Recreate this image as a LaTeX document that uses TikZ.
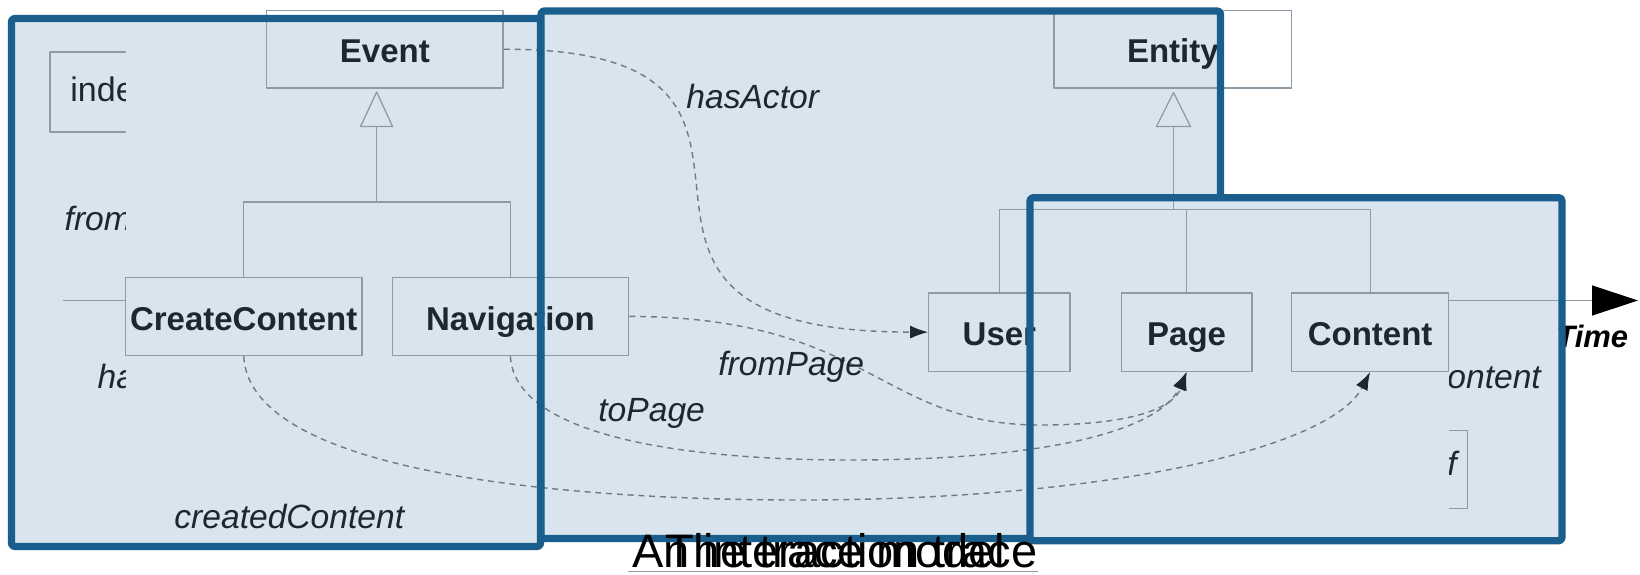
\documentclass[tikz,border=0pt]{standalone}
\usepackage{fontspec}
\setmainfont{Liberation Sans}
\usetikzlibrary{arrows.meta}
\definecolor{panelfill}{HTML}{D9E5EE}
\definecolor{panelline}{HTML}{1A5E8E}
\definecolor{boxline}{HTML}{8D9BA6}
\definecolor{txt}{HTML}{1C2730}
\definecolor{dashc}{HTML}{6E7A84}
\definecolor{capline}{HTML}{9A9A9A}
\tikzset{
  pfill/.style={fill=panelfill, rounded corners=1.5pt},
  pborder/.style={draw=panelline, line width=3.6pt, rounded corners=1.5pt},
  cls/.style={draw=boxline, line width=0.65pt, inner sep=0pt,
    font=\bfseries\fontsize{16.5pt}{18pt}\selectfont, text=txt,
    text height=13.6pt, text depth=0pt},
  thin/.style={draw=boxline, line width=0.65pt},
  lbl/.style={anchor=base west, inner sep=0pt, text=txt,
    font=\itshape\fontsize{16.8pt}{18pt}\selectfont},
  conn/.style={draw=dashc, line width=0.7pt, dash pattern=on 3pt off 2.4pt,
    -{Latex[length=9pt,width=6.5pt,color=txt]}},
  captxt/.style={anchor=base, inner sep=0pt, text=black,
    font=\fontsize{23.5pt}{26pt}\selectfont}
}
\begin{document}
\begin{tikzpicture}[x=0.5pt,y=-0.5pt,line join=round]
\useasboundingbox (0,0) rectangle (1640,574);
\fill[white] (0,0) rectangle (1640,574);

% panel fills
\path[pfill] (11.5,18.5) rectangle (540.5,546.5);
\path[pfill] (541,11) rectangle (1220.5,538.5);
\path[pfill] (1030,197.7) rectangle (1562,540.7);

% class boxes
\node[cls, minimum width=118.2pt, minimum height=38.7pt] (ev) at (384.9,49.2) {Event};
\node[cls, minimum width=118.85pt, minimum height=38.7pt] (en) at (1172.85,49.2) {Entity};
\node[cls, minimum width=118.2pt, minimum height=39.2pt] (cc) at (243.7,316.4) {CreateContent};
\node[cls, minimum width=118.2pt, minimum height=39.2pt] (nav) at (510.4,316.4) {Navigation};
\node[cls, minimum width=70.6pt, minimum height=39.2pt] (us) at (999.4,332.1) {User};
\node[cls, minimum width=65.4pt, minimum height=39.2pt] (pg) at (1186.6,332.1) {Page};
\node[cls, minimum width=78.45pt, minimum height=39.2pt] (ct) at (1370.15,332.1) {Content};

% inheritance: Event
\coordinate (evtip) at (376.6,92);
\coordinate (evbase) at (376.6,126.5);
\coordinate (evbar) at (376.6,201.9);
\draw[thin] (evtip) -- (392.6,126.5) -- (360.6,126.5) -- cycle;
\draw[thin] (evbase) -- (evbar);
\draw[thin] (cc.north) |- (evbar) -| (nav.north);

% inheritance: Entity
\coordinate (entip) at (1173.5,92.5);
\coordinate (enbase) at (1173.5,126.5);
\coordinate (enbar) at (1173.5,209.2);
\draw[thin] (entip) -- (1190.5,126.5) -- (1156.5,126.5) -- cycle;
\draw[thin] (enbase) -- (enbar);
\draw[thin] (us.north) |- (enbar) -| (ct.north);
\draw[thin] (pg.north) -- (pg.north |- enbar);

% partial elements on the left
\begin{scope}
\clip (0,0) rectangle (125.5,574);
\draw[thin] (125.5,52) -- (50,52) -- (50,132) -- (125.5,132);
\node[anchor=base west, inner sep=0pt, text=txt, font=\fontsize{17pt}{19pt}\selectfont] (inde) at (70,101.7) {inde};
\node[lbl] (lfromcut) at (64.3,230) {from};
\node[lbl] (lhacut) at (97.3,388.3) {ha};
\end{scope}
\coordinate (leftend) at (62.8,300.2);
\draw[thin] (leftend) -- (cc.west |- leftend);

% partial elements on the right
\begin{scope}
\clip (1449,0) rectangle (1640,574);
\node[lbl] (lontent) at (1447,388.3) {ontent};
\node[lbl] (lf) at (1447,475) {f};
\draw[thin] (1440,430.7) -| (1467.7,508.3) -- (1440,508.3);
\end{scope}

% time axis
\coordinate (tstart) at (1448.6,300.5);
\coordinate (ttip) at (1638,300.5);
\draw[thin, -{Triangle[length=23pt,width=15pt,color=black]}] (tstart) -- (ttip);
\node[anchor=base west, inner sep=0pt, text=black,
  font=\bfseries\itshape\fontsize{15.5pt}{17pt}\selectfont] (timelbl) at (1556,347.3) {Time};

% associations
\draw[conn] (ev.east) .. controls (867,49) and (520,332) .. (us.west);
\coordinate (fp1) at (1040,425);
\draw[conn] (nav.east) .. controls (870,317) and (880,425) .. (fp1)
  .. controls (1140,425) and (1175,405) .. (pg.south);
\coordinate (tp1) at (850,460);
\draw[conn] (nav.south) .. controls (515,440) and (700,460) .. (tp1)
  .. controls (1050,460) and (1160,430) .. (pg.south);
\coordinate (cp1) at (800,500);
\draw[conn] (cc.south) .. controls (250,480) and (600,500) .. (cp1)
  .. controls (1100,500) and (1330,450) .. (ct.south);

% association labels
\node[lbl] (lhas) at (686,108) {hasActor};
\node[lbl] (lfrom) at (718,375) {fromPage};
\node[lbl] (lto) at (598,421.7) {toPage};
\node[lbl] (lcc) at (174,528) {createdContent};

% panel borders
\draw[pborder] (11.5,18.5) rectangle (540.5,546.5);
\draw[pborder] (1220.5,197.7) -- (1220.5,11) -- (541,11) -- (541,538.5) -- (1030,538.5);
\draw[pborder] (1030,197.7) rectangle (1562,540.7);

% caption
\node[captxt] (cap1) at (835,567) {An interaction trace};
\node[captxt] (cap2) at (835,567) {The trace model};
\coordinate (ul1) at (628,571.5);
\coordinate (ul2) at (1038,571.5);
\draw[capline, line width=0.7pt] (ul1) -- (ul2);
\end{tikzpicture}
\end{document}
